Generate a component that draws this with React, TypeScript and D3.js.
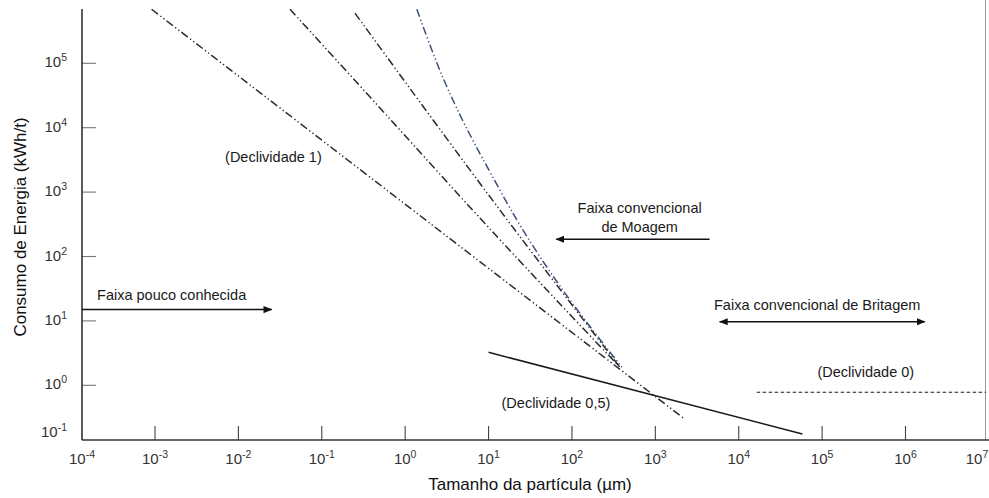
import React from 'react';
import * as d3 from 'd3';

// decades shown on the axes
const xTickExps = [-4, -3, -2, -1, 0, 1, 2, 3, 4, 5, 6, 7];
const yTickExps = [-1, 0, 1, 2, 3, 4, 5];

// curves: [particle size (µm), energy (kWh/t)]
const slope1Line = [[9.1e-4, 6.9e5], [2240, 0.3]];
const curveB = [[0.0416, 6.9e5], [0.218, 65800], [13.7, 182], [377, 1.9]];
const curveC = [[0.25, 6.0e5], [13.7, 525], [377, 1.9]];
const curveD = [[1.38, 6.9e5], [2.28, 1.2e5], [13.7, 1070], [398, 1.9]];
const slopeHalfLine = [[10, 3.25], [58000, 0.175]];
const slopeZeroLine = [[16400, 0.78], [9.2e6, 0.78]];

// arrows: [from, to]
const arrowPouco = [[1.33e-4, 15], [0.025, 15]];
const arrowMoagem = [[4470, 185], [65, 185]];
const arrowBritagem = [[5900, 9.7], [1.7e6, 9.7]];

// annotation texts: [text, size, energy, anchor]
const notes: [string, number, number, string][] = [
  ['(Declividade 1)', 0.1, 2930, 'end'],
  ['Faixa pouco conhecida', 2.02e-4, 21.1, 'start'],
  ['Faixa convencional', 649, 473, 'middle'],
  ['de Moagem', 649, 240, 'middle'],
  ['Faixa convencional de Britagem', 87300, 14.8, 'middle'],
  ['(Declividade 0)', 334000, 1.35, 'middle'],
  ['(Declividade 0,5)', 64.3, 0.444, 'middle'],
];

const W = 989;
const H = 498;
const left = 82;
const right = 989;
const top = 9;
const bottom = 440;
const font = '"Liberation Sans", Arial, sans-serif';

const App = () => {
  const x = d3.scaleLog().domain([1e-3, 1e6]).range([155, 905.5]);
  const y = d3.scaleLog().domain([1, 1e5]).range([385.3, 63.3]);

  const line = d3
    .line<number[]>()
    .x((d) => x(d[0]))
    .y((d) => y(d[1]));
  const smooth = d3
    .line<number[]>()
    .x((d) => x(d[0]))
    .y((d) => y(d[1]))
    .curve(d3.curveMonotoneX);

  const dashDotDot = '8,3,1.3,2.6,1.3,2.6';

  return (
    <svg width={W} height={H} style={{ position: 'absolute', left: 0, top: 0 }} fontFamily={font}>
      <defs>
        <marker id="ah" viewBox="0 0 10 10" refX="9" refY="5" markerWidth="9" markerHeight="9" markerUnits="userSpaceOnUse" orient="auto-start-reverse">
          <path d="M0,1 L10,5 L0,9 Z" fill="#111" />
        </marker>
      </defs>
      <rect width={W} height={H} fill="#fff" />

      {/* right frame edge */}
      <line x1={985.5} x2={985.5} y1={0} y2={bottom} stroke="#999" strokeWidth={1} />

      {/* ticks */}
      {xTickExps.filter((e) => e > -4 && e < 7).map((e) => (
        <line key={'xt' + e} x1={x(10 ** e)} x2={x(10 ** e)} y1={bottom} y2={bottom - 14} stroke="#444" strokeWidth={1.1} />
      ))}
      {yTickExps.filter((e) => e >= 0).map((e) => (
        <line key={'yt' + e} x1={left} x2={left + 14} y1={y(10 ** e)} y2={y(10 ** e)} stroke="#777" strokeWidth={1.1} />
      ))}

      {/* axes */}
      <line x1={left} x2={left} y1={top} y2={bottom} stroke="#333" strokeWidth={1.6} />
      <line x1={left} x2={right} y1={bottom} y2={bottom} stroke="#333" strokeWidth={1.6} />

      {/* tick labels */}
      {xTickExps.map((e) => {
        let px = e === -4 ? left : x(10 ** e);
        px = Math.min(px, 977);
        return (
          <text key={'xl' + e} x={px} y={464} textAnchor="middle" fontSize={15} fill="#333">
            10<tspan dy={-6} fontSize={10.5}>{e}</tspan>
          </text>
        );
      })}
      {yTickExps.map((e) => {
        const py = e === -1 ? 437 : y(10 ** e) + 4;
        return (
          <text key={'yl' + e} x={67} y={py} textAnchor="end" fontSize={15} fill="#333">
            10<tspan dy={-6} fontSize={10.5}>{e}</tspan>
          </text>
        );
      })}

      {/* curves */}
      <path d={line(slope1Line) || ''} fill="none" stroke="#2a2a2a" strokeWidth={1.5} strokeDasharray={dashDotDot} />
      <path d={smooth(curveB) || ''} fill="none" stroke="#2a2a2a" strokeWidth={1.5} strokeDasharray={dashDotDot} />
      <path d={smooth(curveC) || ''} fill="none" stroke="#2a2a2a" strokeWidth={1.5} strokeDasharray={dashDotDot} />
      <path d={smooth(curveD) || ''} fill="none" stroke="#3c4f7c" strokeWidth={1.5} strokeDasharray={dashDotDot} />
      <path d={line(slopeHalfLine) || ''} fill="none" stroke="#1a1a1a" strokeWidth={1.5} />
      <path d={line(slopeZeroLine) || ''} fill="none" stroke="#1a1a1a" strokeWidth={1.2} strokeDasharray="3.5,2.5" />

      {/* arrows */}
      <path d={line(arrowPouco) || ''} stroke="#111" strokeWidth={1.5} markerEnd="url(#ah)" />
      <path d={line(arrowMoagem) || ''} stroke="#111" strokeWidth={1.5} markerEnd="url(#ah)" />
      <path d={line(arrowBritagem) || ''} stroke="#111" strokeWidth={1.5} markerStart="url(#ah)" markerEnd="url(#ah)" />

      {/* notes */}
      {notes.map(([t, sx, sy, anchor]) => (
        <text key={t} x={x(sx)} y={y(sy)} textAnchor={anchor} fontSize={14.5} fill="#1a1a1a">
          {t}
        </text>
      ))}

      {/* axis titles */}
      <text x={530} y={490} textAnchor="middle" fontSize={17} fill="#111">
        Tamanho da partícula (µm)
      </text>
      <text transform={`translate(26, 227) rotate(-90)`} textAnchor="middle" fontSize={17} fill="#111">
        Consumo de Energia (kWh/t)
      </text>
    </svg>
  );
};

export default App;
